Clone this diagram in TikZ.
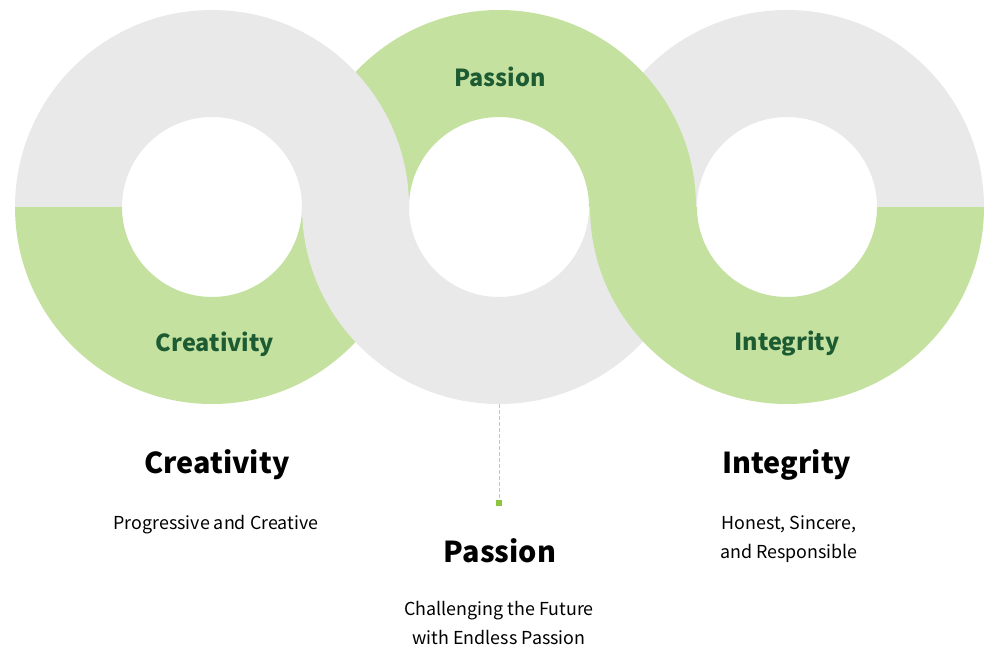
\documentclass[tikz,border=0pt]{standalone}
\usepackage{fontspec}
\setmainfont{Noto Sans CJK KR}
\definecolor{ringgray}{HTML}{E9E9E9}
\definecolor{ringgreen}{HTML}{C5E1A0}
\definecolor{labelgreen}{HTML}{1D5B33}
\definecolor{dotgreen}{HTML}{8CC63E}
\tikzset{
    ringlabel/.style={font=\fontsize{17.6}{22}\selectfont\bfseries, text=labelgreen},
    titlelabel/.style={font=\fontsize{21.6}{26}\selectfont\bfseries, text=black},
    sublabel/.style={font=\fontsize{13.4}{21.75}\selectfont, text=black, align=center},
}
\begin{document}
\begin{tikzpicture}[x=0.75pt, y=0.75pt]
    % Rings: outer and inner radius
    \def\outr{197}
    \def\inr{90}
    \useasboundingbox (0, 0) rectangle (1000, 662);

    % Right ring, top half (under the middle ring)
    \fill[ringgray] (590, 455) arc[start angle=180, end angle=0, radius=\outr]
        -- (877, 455) arc[start angle=0, end angle=180, radius=\inr] -- cycle;
    % Middle ring, top half
    \fill[ringgreen] (302, 455) arc[start angle=180, end angle=0, radius=\outr]
        -- (589, 455) arc[start angle=0, end angle=180, radius=\inr] -- cycle;
    % Left ring, top half (over the middle ring)
    \fill[ringgray] (15, 455) arc[start angle=180, end angle=0, radius=\outr]
        -- (302, 455) arc[start angle=0, end angle=180, radius=\inr] -- cycle;
    % Left ring, bottom half
    \fill[ringgreen] (15, 455) arc[start angle=180, end angle=360, radius=\outr]
        -- (302, 455) arc[start angle=360, end angle=180, radius=\inr] -- cycle;
    % Middle ring, bottom half
    \fill[ringgray] (302, 455) arc[start angle=180, end angle=360, radius=\outr]
        -- (589, 455) arc[start angle=360, end angle=180, radius=\inr] -- cycle;
    % Right ring, bottom half (on top)
    \fill[ringgreen] (590, 455) arc[start angle=180, end angle=360, radius=\outr]
        -- (877, 455) arc[start angle=360, end angle=180, radius=\inr] -- cycle;

    % Labels on the rings
    \node[ringlabel] (ringpassion) at (500, 585) {Passion};
    \node[ringlabel] (ringcreativity) at (215, 318) {Creativity};
    \node[ringlabel] (ringintegrity) at (787, 318) {Integrity};

    % Pointer from the middle ring
    \coordinate (passionbottom) at (499, 258);
    \node[fill=dotgreen, minimum size=4.5pt, inner sep=0pt] (passiondot) at (499, 159) {};
    \draw[ringgreen!70!dotgreen, dashed, dash pattern=on 3pt off 1.5pt, line width=0.6pt] (passionbottom) -- (passiondot);

    % Titles and texts
    \node[titlelabel] (creativitytitle) at (217, 197) {Creativity};
    \node[sublabel] (creativitytext) at (216, 137.5) {Progressive and Creative};
    \node[titlelabel] (passiontitle) at (500, 111) {Passion};
    \node[sublabel] (passiontext) at (499, 38.5) {Challenging the Future\\with Endless Passion};
    \node[titlelabel] (integritytitle) at (787, 197) {Integrity};
    \node[sublabel] (integritytext) at (789, 123) {Honest, Sincere,\\and Responsible};
\end{tikzpicture}
\end{document}
